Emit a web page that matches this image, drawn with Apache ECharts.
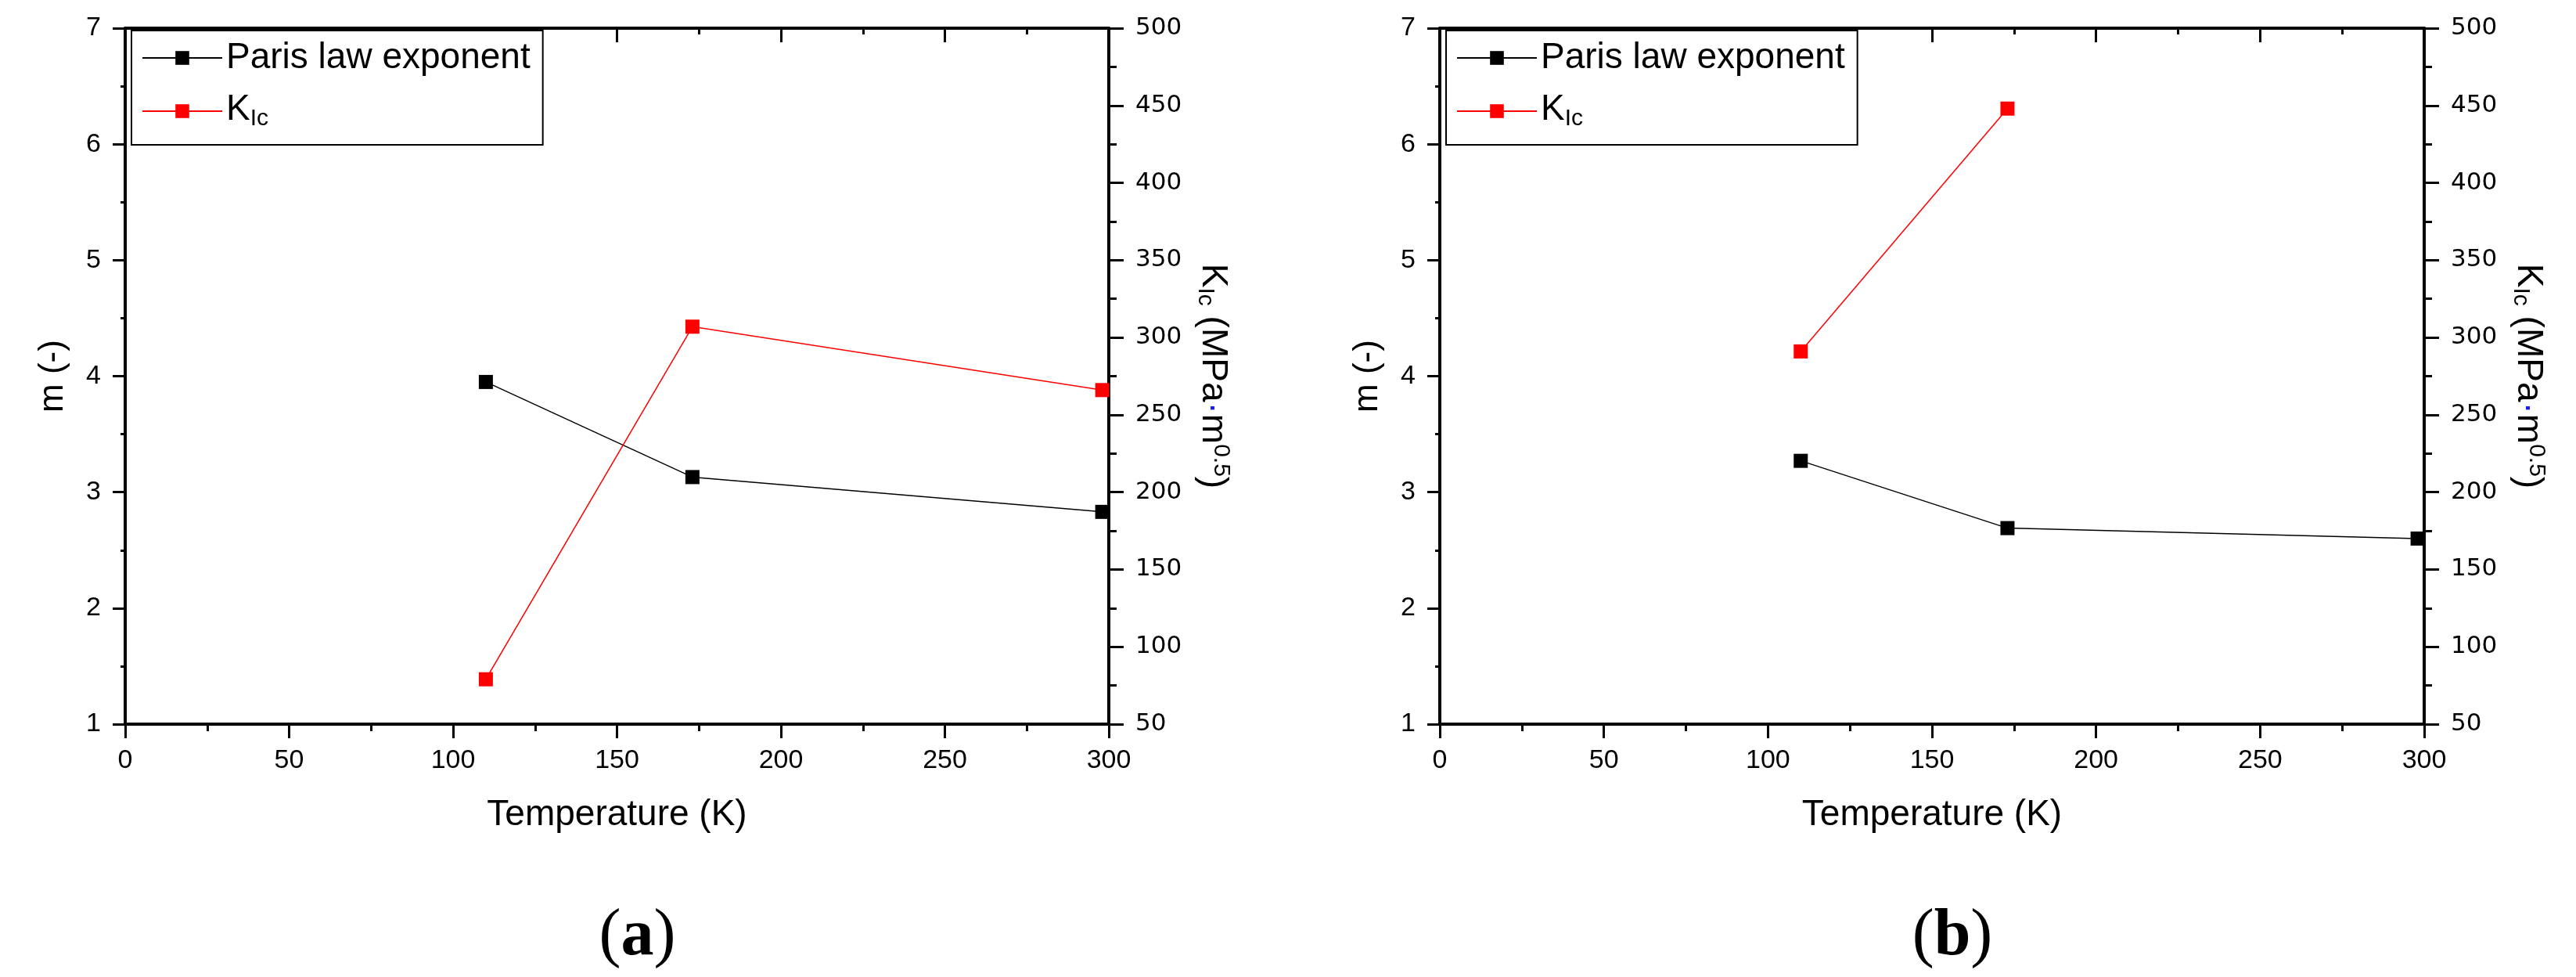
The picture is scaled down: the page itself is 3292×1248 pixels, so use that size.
<!DOCTYPE html>
<html>
<head>
<meta charset="utf-8">
<script src="https://cdn.jsdelivr.net/npm/echarts@6/dist/echarts.min.js"></script>
<style>
html,body{margin:0;padding:0;background:#fff;}
#chart{width:3292px;height:1248px;}
</style>
</head>
<body>
<div id="chart"></div>
<script>
// ---- data ----
const temps = [110, 173, 298];
const a_paris = [3.95, 3.13, 2.83];
const a_kic = [79, 307, 266];
const b_paris = [3.27, 2.69, 2.60];
const b_kic = [291, 448];           // only measured at 110 K and 173 K
const xTicks = [0, 50, 100, 150, 200, 250, 300];
const leftTicks = [1, 2, 3, 4, 5, 6, 7];
const rightTicks = [50, 100, 150, 200, 250, 300, 350, 400, 450, 500];
const seriesNames = ['Paris law exponent', 'KIc'];
const panelLabels = ['a', 'b'];

const pairs = (xs, ys) => ys.map((y, i) => [xs[i], y]);

const SANS = 'Liberation Sans';
const grids = [
  {left: 160, top: 36, width: 1257, height: 889},
  {left: 1840, top: 36, width: 1258, height: 889}
];

const xAxes = [], yAxes = [], legends = [], graphics = [];
grids.forEach((g, gi) => {
  // bottom x axis
  xAxes.push({
    type: 'value', gridIndex: gi, position: 'bottom',
    min: xTicks[0], max: xTicks[xTicks.length - 1], interval: xTicks[1] - xTicks[0],
    name: 'Temperature (K)', nameLocation: 'middle', nameGap: 93,
    nameTextStyle: {fontFamily: SANS, fontSize: 46, color: '#000'},
    axisLine: {show: true, onZero: false, lineStyle: {color: '#000', width: 4}},
    axisTick: {show: true, length: 18, lineStyle: {color: '#000', width: 3}},
    minorTick: {show: true, splitNumber: 2, length: 9, lineStyle: {color: '#000', width: 3}},
    axisLabel: {fontFamily: SANS, fontSize: 34, color: '#000', margin: 30},
    splitLine: {show: false}
  });
  // top mirror axis
  xAxes.push({
    type: 'value', gridIndex: gi, position: 'top',
    min: xTicks[0], max: xTicks[xTicks.length - 1], interval: xTicks[1] - xTicks[0],
    axisLine: {show: true, onZero: false, lineStyle: {color: '#000', width: 4}},
    axisTick: {show: true, inside: true, length: 18, lineStyle: {color: '#000', width: 3}},
    minorTick: {show: true, splitNumber: 2, length: 8, lineStyle: {color: '#000', width: 3}},
    axisLabel: {show: false},
    splitLine: {show: false}
  });
  // left y axis
  yAxes.push({
    type: 'value', gridIndex: gi, position: 'left',
    min: leftTicks[0], max: leftTicks[leftTicks.length - 1], interval: leftTicks[1] - leftTicks[0],
    name: 'm (-)', nameLocation: 'middle', nameGap: 70, nameRotate: 90,
    nameTextStyle: {fontFamily: SANS, fontSize: 44, color: '#000'},
    axisLine: {show: true, onZero: false, lineStyle: {color: '#000', width: 4}},
    axisTick: {show: true, length: 16, lineStyle: {color: '#000', width: 3}},
    minorTick: {show: true, splitNumber: 2, length: 6, lineStyle: {color: '#000', width: 3}},
    axisLabel: {fontFamily: SANS, fontSize: 34, color: '#000', margin: 31},
    splitLine: {show: false}
  });
  // right y axis
  yAxes.push({
    type: 'value', gridIndex: gi, position: 'right',
    min: rightTicks[0], max: rightTicks[rightTicks.length - 1], interval: rightTicks[1] - rightTicks[0],
    name: '{k|K}{s|Ic}{t| (MPa}{d|·}{t|m}{p|0.5}{t|)}', nameLocation: 'middle', nameGap: 108, nameRotate: -90,
    nameTextStyle: {
      fontFamily: SANS, fontSize: 46, color: '#000',
      rich: {
        k: {fontFamily: SANS, fontSize: 46, color: '#000', lineHeight: 50, verticalAlign: 'middle'},
        t: {fontFamily: SANS, fontSize: 46, color: '#000', lineHeight: 50, verticalAlign: 'middle'},
        d: {fontFamily: SANS, fontSize: 46, color: '#1a1aff', lineHeight: 50, verticalAlign: 'middle'},
        s: {fontFamily: SANS, fontSize: 30, color: '#000', lineHeight: 30, verticalAlign: 'bottom', padding: [26, 0, 0, 0]},
        p: {fontFamily: SANS, fontSize: 30, color: '#000', lineHeight: 30, verticalAlign: 'top', padding: [0, 0, 26, 0]}
      }
    },
    axisLine: {show: true, onZero: false, lineStyle: {color: '#000', width: 4}},
    axisTick: {show: true, length: 19, lineStyle: {color: '#000', width: 3}},
    minorTick: {show: true, splitNumber: 2, length: 10, lineStyle: {color: '#000', width: 3}},
    axisLabel: {fontFamily: 'DejaVu Sans', fontSize: 31, color: '#000', margin: 34},
    splitLine: {show: false}
  });
  legends.push({
    left: g.left + 8, top: 39, orient: 'vertical',
    data: seriesNames,
    itemWidth: 102, itemHeight: 22, itemGap: 6,
    padding: [10, 16, 18, 13],
    borderColor: '#000', borderWidth: 2,
    backgroundColor: '#fff',
    selectedMode: false,
    formatter: n => n === 'KIc' ? '{k|K}{s|Ic}' : n,
    textStyle: {
      fontFamily: SANS, fontSize: 46, color: '#000', lineHeight: 50,
      rich: {
        k: {fontFamily: SANS, fontSize: 46, color: '#000', lineHeight: 50, verticalAlign: 'top'},
        s: {fontFamily: SANS, fontSize: 30, color: '#000', lineHeight: 30, verticalAlign: 'bottom', padding: [32, 0, 0, 0]}
      }
    }
  });
  graphics.push({
    type: 'text', x: g.left + g.width / 2 + 26, y: 1197,
    style: {
      text: '{p|(}{b|' + panelLabels[gi] + '}{p|)}', align: 'center', verticalAlign: 'middle',
      rich: {
        p: {fontFamily: 'Liberation Serif', fontSize: 84, color: '#000'},
        b: {fontFamily: 'Liberation Serif', fontSize: 84, fontWeight: 'bold', color: '#000'}
      }
    }
  });
});

const mkSeries = (name, color, xi, yi, data) => ({
  name, type: 'line', xAxisIndex: xi, yAxisIndex: yi, data,
  symbol: 'rect', symbolSize: 18, showSymbol: true,
  lineStyle: {color, width: 1.5}, itemStyle: {color},
  animation: false, z: 3
});

const option = {
  backgroundColor: '#fff',
  animation: false,
  grid: grids.map(g => Object.assign({containLabel: false}, g)),
  xAxis: xAxes,
  yAxis: yAxes,
  legend: legends,
  graphic: graphics,
  series: [
    mkSeries(seriesNames[0], '#000', 0, 0, pairs(temps, a_paris)),
    mkSeries(seriesNames[1], '#ff0000', 0, 1, pairs(temps, a_kic)),
    mkSeries(seriesNames[0], '#000', 2, 2, pairs(temps, b_paris)),
    mkSeries(seriesNames[1], '#ff0000', 2, 3, pairs(temps, b_kic))
  ]
};

const chart = echarts.init(document.getElementById('chart'), null, {renderer: 'canvas'});
chart.setOption(option);
</script>
</body>
</html>
